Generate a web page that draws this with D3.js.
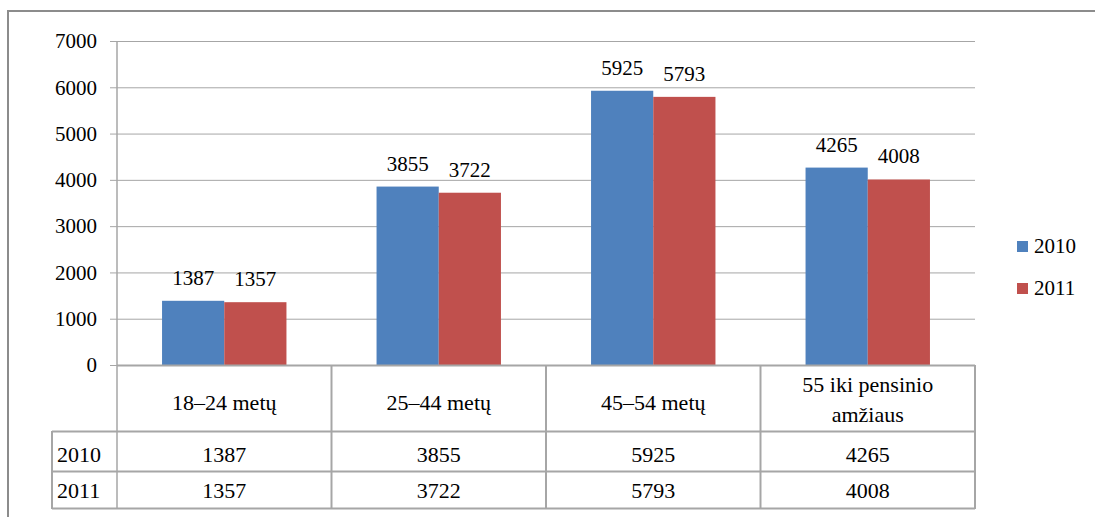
<!DOCTYPE html>
<html>
<head>
<meta charset="utf-8">
<script src="https://cdn.jsdelivr.net/npm/d3@7"></script>
<style>
  body { margin: 0; background: #fff; }
  svg text { font-family: 'Liberation Serif', 'Times New Roman', Tinos, 'DejaVu Serif', serif; fill: #000; }
</style>
</head>
<body>
<div id="chart"></div>
<script>
//Datos
const categories = ['18–24 metų', '25–44 metų', '45–54 metų', '55 iki pensinio amžiaus'];
const categoryLines = [['18–24 metų'], ['25–44 metų'], ['45–54 metų'], ['55 iki pensinio', 'amžiaus']];
const series = ['2010', '2011'];
const values2010 = [1387, 3855, 5925, 4265];
const values2011 = [1357, 3722, 5793, 4008];
const yTicks = [0, 1000, 2000, 3000, 4000, 5000, 6000, 7000];

const COLOR_BLUE = '#4F81BD', COLOR_RED = '#C0504D', COLOR_GRID = '#a6a6a6';
const SERIF = "'Liberation Serif', 'Times New Roman', Tinos, 'DejaVu Serif', serif";

let width = 1095, height = 517;
let plot = { left: 117, right: 975, top: 41, bottom: 365 };
let rowBottoms = [431, 471, 508];
let tableLeft = 52;

let svg = d3.select('#chart').append('svg')
    .attr('width', width)
    .attr('height', height)
    .style('font-family', SERIF);

//Marco exterior
svg.append('rect')
    .attr('x', 8).attr('y', 11)
    .attr('width', width + 10).attr('height', height + 10)
    .attr('fill', 'none')
    .attr('stroke', '#8c8c8c')
    .attr('stroke-width', 2);

let y = d3.scaleLinear().domain([0, 7000]).range([plot.bottom, plot.top]);
let x0 = d3.scaleBand().domain(categories).range([plot.left, plot.right]);
let x1 = d3.scaleBand().domain(series)
    .range([x0.bandwidth() * 0.21, x0.bandwidth() * 0.79]);
let color = d3.scaleOrdinal().domain(series).range([COLOR_BLUE, COLOR_RED]);

//Eje Y con líneas de cuadrícula
let yAxis = svg.append('g')
    .attr('transform', 'translate(' + plot.left + ',0)')
    .call(d3.axisLeft(y).tickValues(yTicks).tickFormat(d3.format('d')).tickSize(7).tickPadding(13));
yAxis.attr('font-family', null).attr('font-size', null);
yAxis.select('.domain').remove();
yAxis.selectAll('line').attr('stroke', COLOR_GRID);
yAxis.selectAll('text')
    .style('font-family', SERIF)
    .style('font-size', '21px')
    .attr('fill', '#000');

svg.append('g').selectAll('line')
    .data(yTicks)
    .enter()
    .append('line')
    .attr('x1', plot.left).attr('x2', plot.right)
    .attr('y1', d => y(d) + 0.5).attr('y2', d => y(d) + 0.5)
    .attr('stroke', COLOR_GRID);

//Barras
let rows = categories.map((c, i) => ({ cat: c, vals: [values2010[i], values2011[i]] }));

let groups = svg.append('g').selectAll('g')
    .data(rows)
    .enter()
    .append('g')
    .attr('transform', d => 'translate(' + x0(d.cat) + ',0)');

groups.selectAll('rect')
    .data(d => d.vals.map((v, j) => ({ s: series[j], v: v })))
    .enter()
    .append('rect')
    .attr('x', d => x1(d.s))
    .attr('y', d => y(d.v))
    .attr('width', x1.bandwidth())
    .attr('height', d => y(0) - y(d.v))
    .attr('fill', d => color(d.s));

groups.selectAll('text.value')
    .data(d => d.vals.map((v, j) => ({ s: series[j], v: v })))
    .enter()
    .append('text')
    .attr('class', 'value')
    .attr('x', d => x1(d.s) + x1.bandwidth() / 2)
    .attr('y', d => y(d.v) - 16)
    .attr('text-anchor', 'middle')
    .style('font-size', '21px')
    .text(d => d.v);

//Tabla de datos
let table = svg.append('g');
let hLines = [plot.bottom].concat(rowBottoms);
hLines.forEach(function(yy, i) {
    table.append('line')
        .attr('x1', i == 0 ? plot.left : tableLeft).attr('x2', plot.right)
        .attr('y1', yy + 0.5).attr('y2', yy + 0.5)
        .attr('stroke', COLOR_GRID).attr('stroke-width', 2);
});
let vLines = categories.map(c => x0(c)).concat([plot.right]);
vLines.forEach(function(xx, i) {
    table.append('line')
        .attr('x1', xx).attr('x2', xx)
        .attr('y1', i == 0 ? plot.top : plot.bottom).attr('y2', rowBottoms[2] + 1)
        .attr('stroke', COLOR_GRID).attr('stroke-width', i == 0 ? 1.5 : 2);
});
table.append('line')
    .attr('x1', tableLeft).attr('x2', tableLeft)
    .attr('y1', rowBottoms[0]).attr('y2', rowBottoms[2] + 1)
    .attr('stroke', COLOR_GRID).attr('stroke-width', 2);

//Etiquetas de categoría
categoryLines.forEach(function(lines, i) {
    let cx = x0(categories[i]) + x0.bandwidth() / 2;
    let base = lines.length == 1 ? 410 : 392;
    lines.forEach(function(t, k) {
        table.append('text')
            .attr('x', cx).attr('y', base + k * 30)
            .attr('text-anchor', 'middle')
            .style('font-size', '22px')
            .text(t);
    });
});

//Filas de valores
let rowBase = [462, 498];
[values2010, values2011].forEach(function(vals, r) {
    table.append('text')
        .attr('x', 57).attr('y', rowBase[r])
        .style('font-size', '22px')
        .text(series[r]);
    vals.forEach(function(v, i) {
        table.append('text')
            .attr('x', x0(categories[i]) + x0.bandwidth() / 2).attr('y', rowBase[r])
            .attr('text-anchor', 'middle')
            .style('font-size', '22px')
            .text(v);
    });
});

//Leyenda
let legend = svg.append('g').selectAll('g')
    .data(series)
    .enter()
    .append('g')
    .attr('transform', (d, i) => 'translate(1017,' + (241 + i * 42) + ')');
legend.append('rect')
    .attr('width', 11).attr('height', 11)
    .attr('fill', d => color(d));
legend.append('text')
    .attr('x', 17).attr('y', 12)
    .style('font-size', '21px')
    .text(d => d);
</script>
</body>
</html>
